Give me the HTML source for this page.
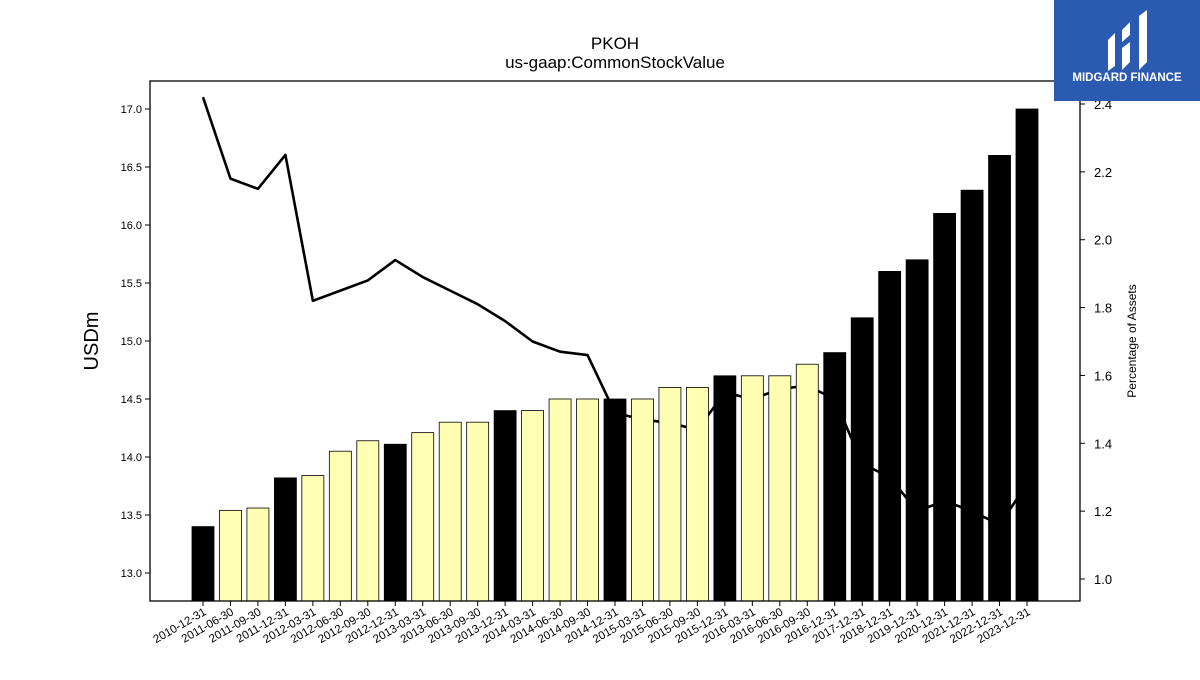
<!DOCTYPE html>
<html><head><meta charset="utf-8">
<style>
body{margin:0;background:#fff;font-family:"Liberation Sans",sans-serif;}
svg text{font-family:"Liberation Sans",sans-serif;}
</style></head>
<body>
<svg id="chart" width="1200" height="675" xmlns="http://www.w3.org/2000/svg">
<rect width="1200" height="675" fill="#fff"/>
<text x="615" y="49" font-size="17" text-anchor="middle">PKOH</text>
<text x="615" y="68" font-size="17" text-anchor="middle">us-gaap:CommonStockValue</text>
<g id="lineg"></g>
<g id="bars"></g>
<rect x="150" y="81" width="930" height="520" fill="none" stroke="#000" stroke-width="1.3"/>
<g id="leftaxis"></g>
<g id="rightaxis"></g>
<g id="xaxis"></g>
<text transform="translate(98,341) rotate(-90)" font-size="20" text-anchor="middle">USDm</text>
<text transform="translate(1136,341) rotate(-90)" font-size="12" text-anchor="middle">Percentage of Assets</text>
<g>
<rect x="1054" y="0" width="146" height="101" fill="#2b5bb0"/>
<path d="M1108 40 L1115 33 L1115 66 L1108 71 Z" fill="#fff"/>
<path d="M1122 30 L1130 22 L1130 35 L1122 42 Z" fill="#fff"/>
<path d="M1122 48 L1130 42 L1130 62 L1122 70 Z" fill="#fff"/>
<path d="M1139 16 L1147 10 L1147 62 L1139 70 Z" fill="#fff"/>
<text x="1127" y="81" font-size="11.5" font-weight="bold" fill="#fff" text-anchor="middle">MIDGARD FINANCE</text>
</g>
</svg>
<script>
const categories=["2010-12-31","2011-06-30","2011-09-30","2011-12-31","2012-03-31","2012-06-30","2012-09-30","2012-12-31","2013-03-31","2013-06-30","2013-09-30","2013-12-31","2014-03-31","2014-06-30","2014-09-30","2014-12-31","2015-03-31","2015-06-30","2015-09-30","2015-12-31","2016-03-31","2016-06-30","2016-09-30","2016-12-31","2017-12-31","2018-12-31","2019-12-31","2020-12-31","2021-12-31","2022-12-31","2023-12-31"];
const stockValues=[13.4,13.54,13.56,13.82,13.84,14.05,14.14,14.11,14.21,14.3,14.3,14.4,14.4,14.5,14.5,14.5,14.5,14.6,14.6,14.7,14.7,14.7,14.8,14.9,15.2,15.6,15.7,16.1,16.3,16.6,17.0];
const pctAssets=[2.42,2.18,2.15,2.25,1.82,1.85,1.88,1.94,1.89,1.85,1.81,1.76,1.70,1.67,1.66,1.49,1.47,1.46,1.44,1.55,1.53,1.56,1.57,1.53,1.34,1.30,1.20,1.23,1.20,1.16,1.28];
const leftTicks=[13.0,13.5,14.0,14.5,15.0,15.5,16.0,16.5,17.0];
const rightTicks=[1.0,1.2,1.4,1.6,1.8,2.0,2.2,2.4];
const NS="http://www.w3.org/2000/svg";
const yL=v=>573-(v-13.0)*116;
const yR=v=>579-(v-1.0)*(475/1.4);
const xC=i=>203+i*(824/30);
const bottom=601;
function mk(tag,attrs,parent){const e=document.createElementNS(NS,tag);for(const k in attrs)e.setAttribute(k,attrs[k]);parent.appendChild(e);return e;}
const bars=document.getElementById('bars');
stockValues.forEach((v,i)=>{
  const black=categories[i].endsWith('12-31');
  const r=mk('rect',{x:xC(i)-11,y:yL(v),width:22,height:bottom-yL(v),fill:black?'#000':'#ffffb3',stroke:'#000','stroke-width':0.8},bars);
  
  
});
const lg=document.getElementById('lineg');
const pl=mk('polyline',{points:pctAssets.map((v,i)=>xC(i)+','+yR(v)).join(' '),fill:'none',stroke:'#000','stroke-width':2.6,'stroke-linejoin':'round'},lg);


const la=document.getElementById('leftaxis');
leftTicks.forEach(t=>{
  mk('line',{x1:145,x2:150,y1:yL(t),y2:yL(t),stroke:'#000'},la);
  const tx=mk('text',{x:142,y:yL(t)+4,'font-size':11,'text-anchor':'end'},la);
  tx.textContent=t.toFixed(1);
  
  
});
const ra=document.getElementById('rightaxis');
rightTicks.forEach(t=>{
  mk('line',{x1:1080,x2:1085,y1:yR(t),y2:yR(t),stroke:'#000'},ra);
  const tx=mk('text',{x:1094,y:yR(t)+5,'font-size':13},ra);
  tx.textContent=t.toFixed(1);
  
  
});
const xa=document.getElementById('xaxis');
categories.forEach((c,i)=>{
  mk('line',{x1:xC(i),x2:xC(i),y1:601,y2:606,stroke:'#000'},xa);
  const tx=mk('text',{x:xC(i)+4,y:614,'font-size':11.5,'text-anchor':'end',transform:`rotate(-30 ${xC(i)+4} 614)`},xa);
  tx.textContent=c;
  
  
});
</script>
</body></html>
